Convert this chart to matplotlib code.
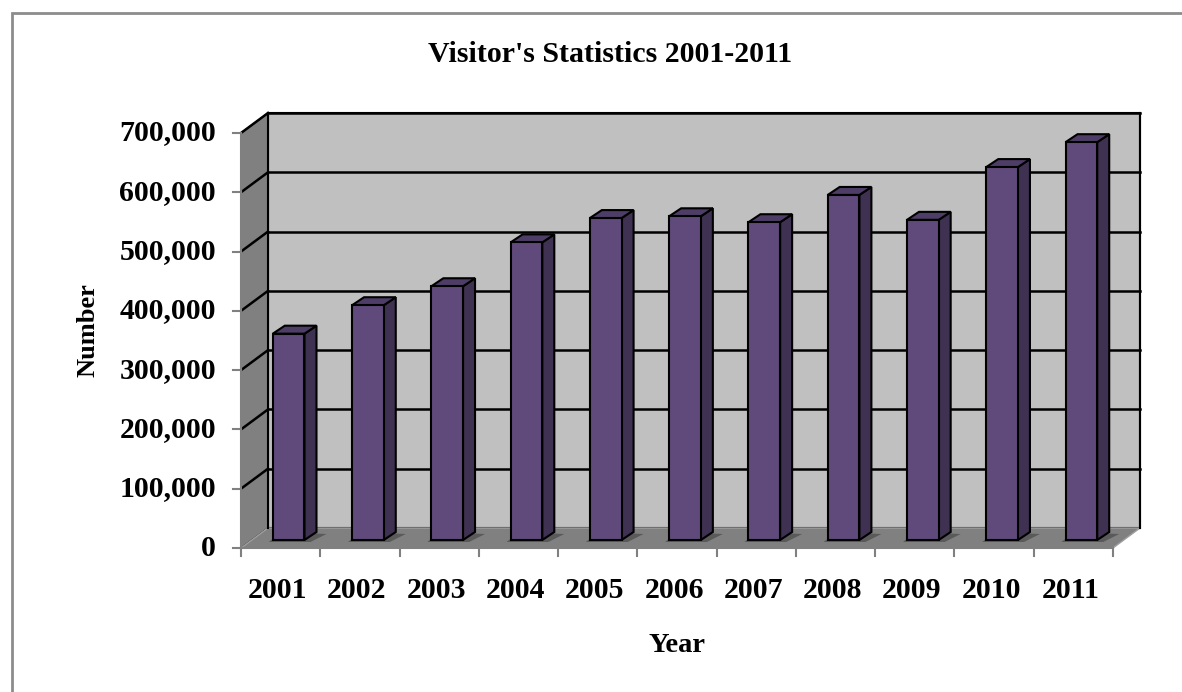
import matplotlib
matplotlib.use("Agg")
import matplotlib.pyplot as plt
from matplotlib.patches import Polygon, Rectangle
from matplotlib.lines import Line2D

# data
years = ["2001", "2002", "2003", "2004", "2005", "2006",
         "2007", "2008", "2009", "2010", "2011"]
visitors = [348000, 396000, 428000, 502000, 543000, 546000,
            536000, 582000, 540000, 629000, 671000]
y_ticks = [0, 100000, 200000, 300000, 400000, 500000, 600000, 700000]

title = "Visitor's Statistics 2001-2011"
x_label = "Year"
y_label = "Number"

# colours (Excel 2007 style 3D column)
WALL = "#C0C0C0"
SIDE = "#808080"
FLOOR = "#808080"
BAR_FRONT = "#604A7B"
BAR_SIDE = "#3F3151"
BAR_TOP = "#4E3D66"
AXIS_GRAY = "#808080"

# depth offsets in pixels (right, up)
D_FRONT = (0, 0)
D_BACK = (27, 20)
D_BAR_F = (8, 8)
D_BAR_B = (20, 16)

W, H = 1182, 692
fig = plt.figure(figsize=(W / 100, H / 100), dpi=100)
fig.patch.set_facecolor("white")

# axes = the front plane of the 3D box
ax = fig.add_axes([241 / W, (H - 548) / H, (1113 - 241) / W, (548 - 133) / H])
ax.set_xlim(0, len(years))
ax.set_ylim(0, 700000)
ax.axis("off")

serif = ["Liberation Serif", "DejaVu Serif"]


def pt(x, y, d):
    px, py = ax.transData.transform((x, y))
    return fig.transFigure.inverted().transform((px + d[0], py + d[1]))


def poly(points, fc, ec="black", lw=1.5, z=1):
    fig.patches.append(Polygon(points, closed=True, facecolor=fc, edgecolor=ec,
                               linewidth=lw, transform=fig.transFigure, zorder=z,
                               joinstyle="miter"))


def line(p0, p1, color="black", lw=1.5, z=2):
    fig.lines.append(Line2D([p0[0], p1[0]], [p0[1], p1[1]], color=color, lw=lw,
                            transform=fig.transFigure, zorder=z))


n = len(years)
ymax = y_ticks[-1]

# outer chart border
fig.patches.append(Rectangle((12 / W, -0.05), 1.1, 1 - 13 / H + 0.05, fill=False,
                             edgecolor="#8C8C8C", linewidth=2,
                             transform=fig.transFigure, zorder=0))

# back wall
poly([pt(0, 0, D_BACK), pt(n, 0, D_BACK), pt(n, ymax, D_BACK), pt(0, ymax, D_BACK)], WALL, z=1)
# side wall
poly([pt(0, 0, D_FRONT), pt(0, ymax, D_FRONT), pt(0, ymax, D_BACK), pt(0, 0, D_BACK)], SIDE, lw=1.0, z=1)
# floor
poly([pt(0, 0, D_FRONT), pt(n, 0, D_FRONT), pt(n, 0, D_BACK), pt(0, 0, D_BACK)], FLOOR, ec="#A0A0A0", lw=1.0, z=1)

# gridlines on walls
for v in y_ticks[1:]:
    line(pt(0, v, D_FRONT), pt(0, v, D_BACK), lw=1.8, z=2)
    line(pt(0, v, D_BACK), pt(n, v, D_BACK), lw=1.8, z=2)
line(pt(n, 0, D_BACK), pt(n, ymax, D_BACK), lw=1.5, z=2)
line(pt(0, 0, D_BACK), pt(0, ymax, D_BACK), lw=1.5, z=2)

# front axes lines and ticks
line(pt(0, 0, D_FRONT), pt(0, ymax, D_FRONT), color=AXIS_GRAY, lw=1.5, z=3)
line(pt(0, 0, D_FRONT), pt(n, 0, D_FRONT), color=AXIS_GRAY, lw=1.5, z=3)
for v in y_ticks:
    line(pt(0, v, D_FRONT), pt(0, v, (-8, 0)), color=AXIS_GRAY, lw=1.5, z=3)
    x0, y0 = pt(0, v, (-25, 0))
    fig.text(x0, y0, f"{v:,}", ha="right", va="center", fontsize=21.4,
             fontweight="bold", family=serif)
for i in range(n + 1):
    line(pt(i, 0, D_FRONT), pt(i, 0, (0, -8)), color=AXIS_GRAY, lw=1.5, z=3)
for i, yr in enumerate(years):
    x0, y0 = pt(i + 0.5, 0, (-3, -43))
    fig.text(x0, y0, yr, ha="center", va="center", fontsize=21.4,
             fontweight="bold", family=serif)

# bars
for i, v in enumerate(visitors):
    l, r = i + 0.3, i + 0.7
    # floor shadow
    poly([pt(l, 0, (D_BAR_F[0] - 4, D_BAR_F[1] - 2)), pt(r, 0, (D_BAR_F[0] + 6, D_BAR_F[1] - 2)),
          pt(r, 0, (D_BAR_B[0] + 10, D_BAR_B[1] - 2)), pt(l, 0, (D_BAR_B[0] - 4, D_BAR_B[1]))],
         "#5A5A5A", ec="none", lw=0, z=4)
    poly([pt(r, 0, D_BAR_F), pt(r, v, D_BAR_F), pt(r, v, D_BAR_B), pt(r, 0, D_BAR_B)], BAR_SIDE, z=5)
    poly([pt(l, v, D_BAR_F), pt(r, v, D_BAR_F), pt(r, v, D_BAR_B), pt(l, v, D_BAR_B)], BAR_TOP, z=5)
    poly([pt(l, 0, D_BAR_F), pt(r, 0, D_BAR_F), pt(r, v, D_BAR_F), pt(l, v, D_BAR_F)], BAR_FRONT, z=6)

# titles
fig.text(610 / W, 1 - 54 / H, title, ha="center", va="center", fontsize=21.5,
         fontweight="bold", family=serif)
fig.text(677 / W, 1 - 645 / H, x_label, ha="center", va="center", fontsize=20.5,
         fontweight="bold", family=serif)
fig.text(88 / W, 1 - 330 / H, y_label, ha="center", va="center", fontsize=19,
         fontweight="bold", family=serif, rotation=90)

fig.savefig("out.png", dpi=100)
